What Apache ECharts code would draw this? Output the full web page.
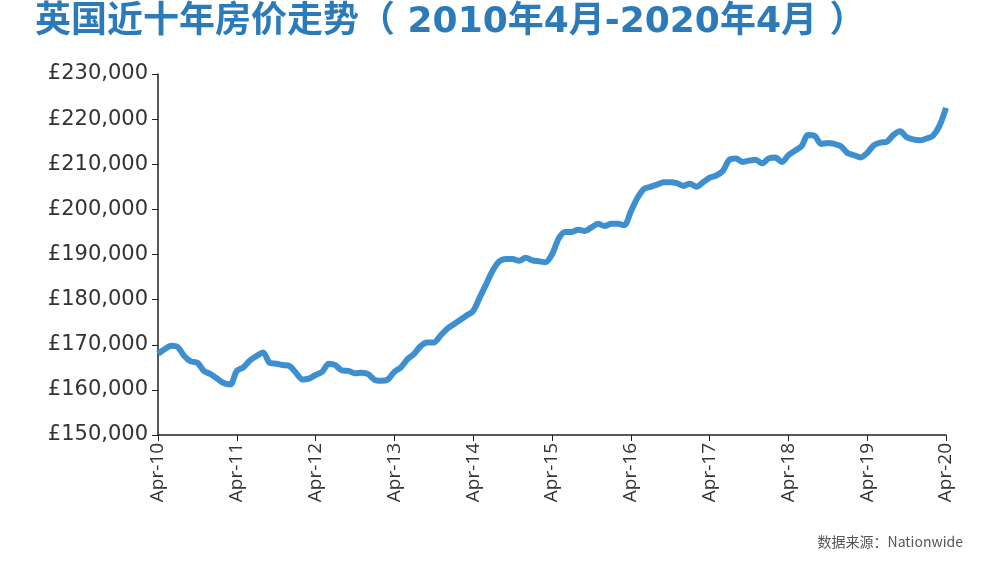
<!DOCTYPE html>
<html><head><meta charset="utf-8">
<script src="https://cdn.jsdelivr.net/npm/echarts@6/dist/echarts.min.js"></script>
<style>html,body{margin:0;background:#fff}#c{width:993px;height:566px}</style>
</head><body><div id="c"></div>
<script>
const years = ['10','11','12','13','14','15','16','17','18','19','20'];
const monthNames = ['Apr','May','Jun','Jul','Aug','Sep','Oct','Nov','Dec','Jan','Feb','Mar'];
const prices = [
168000,169000,169800,169500,167500,166300,166000,164200,163500,162500,161500,161200,
164200,165000,166500,167500,168300,166000,165800,165500,165300,163800,162300,162500,
163300,164000,165800,165500,164300,164200,163700,163800,163500,162200,162000,162300,
164000,165000,166800,168000,169700,170500,170500,172000,173500,174500,175500,176500,
177500,180500,183500,186500,188500,189000,189000,188600,189300,188700,188500,188300,
190000,193500,195000,195000,195500,195200,196000,196800,196300,196800,196800,196500,
199500,202500,204500,205000,205500,206000,206000,205800,205200,205700,205000,206000,
207000,207500,208500,211000,211300,210500,210800,211000,210200,211300,211500,210500,
212000,213000,214000,216500,216300,214500,214700,214500,214000,212500,212000,211500,
212500,214200,214800,215000,216500,217300,216000,215500,215300,215700,216300,218500,
222500];
const categories = prices.map((_, i) => {
  const m = i % 12, y = Math.floor(i / 12) + (m >= 9 ? 1 : 0);
  return monthNames[m] + '-' + String(10 + y).padStart(2, '0');
});
const chart = echarts.init(document.getElementById('c'));
chart.setOption({
  animation:false,
  title:[{text:'英国近十年房价走势（ 2010年4月-2020年4月 ）',left:30,top:0,
    textStyle:{fontFamily:'DejaVu Sans, Noto Sans CJK SC',fontWeight:'bold',fontSize:36,color:'#2b7bbb'}},
   {text:'数据来源：Nationwide',right:25,bottom:12,textStyle:{fontFamily:'Noto Sans CJK SC',fontWeight:'normal',fontSize:14,color:'#555'}}],
  grid:{left:158,right:47,top:74,bottom:131},
  xAxis:{type:'category',data:categories,boundaryGap:false,
    axisLine:{lineStyle:{color:'#222',width:1.5}},
    axisTick:{interval:(i)=>i%12===0,length:6,lineStyle:{color:'#222'}},
    axisLabel:{interval:(i)=>i%12===0,rotate:90,fontSize:19,color:'#333',fontFamily:'Open Sans',margin:8}},
  yAxis:{type:'value',min:150000,max:230000,interval:10000,
    axisLine:{show:true,lineStyle:{color:'#222',width:1.5}},
    axisTick:{show:true,length:6,lineStyle:{color:'#222'}},
    splitLine:{show:false},
    axisLabel:{fontSize:21,color:'#333',fontFamily:'DejaVu Sans',margin:10,
      formatter:v=>'£'+v.toLocaleString('en-US')}},
  series:[{type:'line',data:prices,showSymbol:false,smooth:0.3,
    lineStyle:{color:'#3e8fd0',width:6}}]
});
</script></body></html>
